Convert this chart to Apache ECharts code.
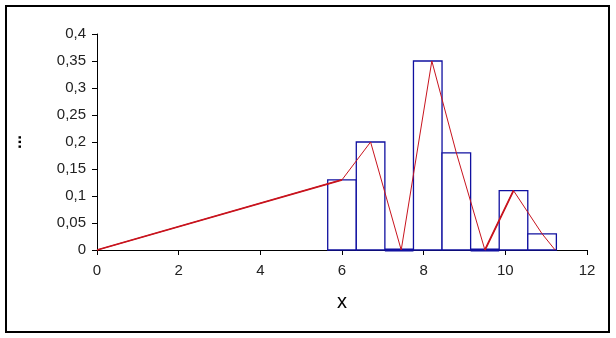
<!DOCTYPE html>
<html>
<head>
<meta charset="utf-8">
<script src="https://cdn.jsdelivr.net/npm/echarts@6/dist/echarts.min.js"></script>
<style>
html,body{margin:0;padding:0;background:#fff;}
#frame{position:absolute;left:5px;top:5px;width:601px;height:324px;border:2px solid #000;}
#c{position:absolute;left:0;top:0;width:616px;height:338px;}
</style>
</head>
<body>
<div id="frame"></div>
<div id="c"></div>
<script>
// Histogram bins (left edge, right edge) and relative frequencies
const binStart = [5.65, 6.35, 7.05, 7.75, 8.45, 9.15, 9.85, 10.55];
const binEnd   = [6.35, 7.05, 7.75, 8.45, 9.15, 9.85, 10.55, 11.25];
const freq     = [0.13, 0.20, 0.00, 0.35, 0.18, 0.00, 0.11, 0.03];
// Frequency polygon points
const polyX = [0, 6.0, 6.7, 7.45, 8.2, 8.8, 9.5, 10.2, 10.9, 11.22];
const polyY = [0, 0.13, 0.20, 0.00, 0.35, 0.18, 0.00, 0.11, 0.03, 0.00];
// Axis ticks
const xTicks = [0, 2, 4, 6, 8, 10, 12];
const yTicks = [0, 0.05, 0.1, 0.15, 0.2, 0.25, 0.3, 0.35, 0.4];

const BLUE = '#1010a0';
const RED = '#c8141e';

const chart = echarts.init(document.getElementById('c'), null, {renderer: 'canvas'});
const fmtY = v => String(+v.toFixed(2)).replace('.', ',');

chart.setOption({
  animation: false,
  grid: {left: 95, right: 29, top: 34, bottom: 88},
  xAxis: {
    type: 'value', min: xTicks[0], max: xTicks[xTicks.length - 1], interval: 2,
    name: 'x', nameLocation: 'middle', nameGap: 42,
    nameTextStyle: {fontSize: 20, color: '#000', fontFamily: 'Liberation Sans'},
    axisLine: {lineStyle: {color: '#000', width: 1}},
    axisTick: {show: true, length: 5, lineStyle: {color: '#000'}},
    axisLabel: {color: '#222', fontSize: 15, fontFamily: 'Liberation Sans', margin: 13},
    splitLine: {show: false}
  },
  yAxis: {
    type: 'value', min: yTicks[0], max: yTicks[yTicks.length - 1], interval: 0.05,
    name: '...', nameLocation: 'middle', nameGap: 72, nameRotate: 90,
    nameTextStyle: {fontSize: 17, fontWeight: 'bold', color: '#000', fontFamily: 'Liberation Sans'},
    axisLine: {show: true, lineStyle: {color: '#000', width: 1}},
    axisTick: {show: true, length: 5, lineStyle: {color: '#000'}},
    axisLabel: {color: '#222', fontSize: 15, fontFamily: 'Liberation Sans', margin: 11, formatter: fmtY},
    splitLine: {show: false}
  },
  series: [
    {
      type: 'custom',
      data: binStart.map((s, i) => [s, binEnd[i], freq[i]]),
      encode: {x: [0, 1], y: 2},
      renderItem: function (params, api) {
        const p0 = api.coord([api.value(0), 0]);
        const p1 = api.coord([api.value(1), api.value(2)]);
        const h = api.value(2);
        return {
          type: 'rect',
          shape: {x: p0[0], y: p1[1], width: p1[0] - p0[0], height: p0[1] - p1[1]},
          style: {fill: '#fff', stroke: BLUE, lineWidth: h === 0 ? 3 : 1.3}
        };
      },
      z: 2
    },
    {
      type: 'line',
      data: polyX.map((x, i) => [x, polyY[i]]),
      showSymbol: false,
      lineStyle: {color: RED, width: 1},
      z: 3
    },
    {
      type: 'line',
      data: [[polyX[0], polyY[0]], [polyX[1], polyY[1]], null, [polyX[6], polyY[6]], [polyX[7], polyY[7]]],
      connectNulls: false,
      showSymbol: false,
      lineStyle: {color: RED, width: 1.8},
      z: 3
    }
  ]
});
</script>
</body>
</html>
